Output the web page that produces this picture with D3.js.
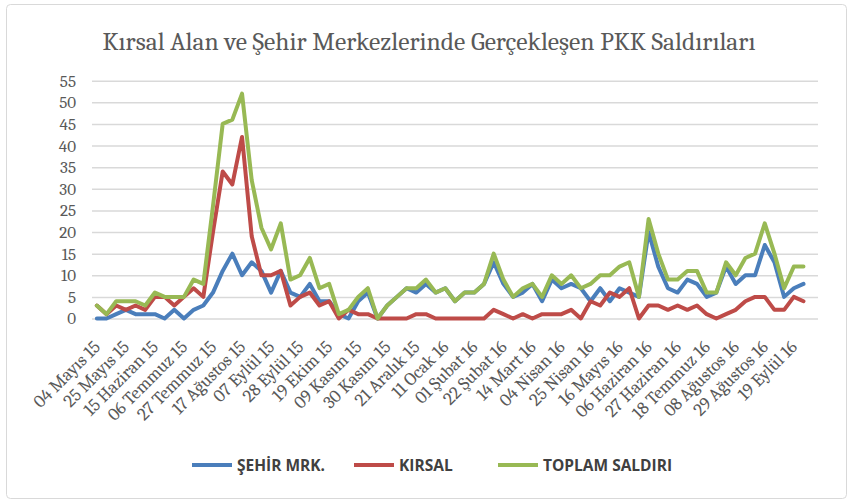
<!DOCTYPE html>
<html>
<head>
<meta charset="utf-8">
<script src="https://cdn.jsdelivr.net/npm/d3@7"></script>
<style>
  body { margin: 0; background: #fff; }
  svg { display: block; }
</style>
</head>
<body>
<div id="chart"></div>
<script>
// weekly categories, 04 Mayıs 15 .. 26 Eylül 16
const categories = [
  "04 Mayıs 15", "11 Mayıs 15", "18 Mayıs 15", "25 Mayıs 15", "01 Haziran 15", "08 Haziran 15",
  "15 Haziran 15", "22 Haziran 15", "29 Haziran 15", "06 Temmuz 15", "13 Temmuz 15", "20 Temmuz 15",
  "27 Temmuz 15", "03 Ağustos 15", "10 Ağustos 15", "17 Ağustos 15", "24 Ağustos 15", "31 Ağustos 15",
  "07 Eylül 15", "14 Eylül 15", "21 Eylül 15", "28 Eylül 15", "05 Ekim 15", "12 Ekim 15",
  "19 Ekim 15", "26 Ekim 15", "02 Kasım 15", "09 Kasım 15", "16 Kasım 15", "23 Kasım 15",
  "30 Kasım 15", "07 Aralık 15", "14 Aralık 15", "21 Aralık 15", "28 Aralık 15", "04 Ocak 16",
  "11 Ocak 16", "18 Ocak 16", "25 Ocak 16", "01 Şubat 16", "08 Şubat 16", "15 Şubat 16",
  "22 Şubat 16", "29 Şubat 16", "07 Mart 16", "14 Mart 16", "21 Mart 16", "28 Mart 16",
  "04 Nisan 16", "11 Nisan 16", "18 Nisan 16", "25 Nisan 16", "02 Mayıs 16", "09 Mayıs 16",
  "16 Mayıs 16", "23 Mayıs 16", "30 Mayıs 16", "06 Haziran 16", "13 Haziran 16", "20 Haziran 16",
  "27 Haziran 16", "04 Temmuz 16", "11 Temmuz 16", "18 Temmuz 16", "25 Temmuz 16", "01 Ağustos 16",
  "08 Ağustos 16", "15 Ağustos 16", "22 Ağustos 16", "29 Ağustos 16", "05 Eylül 16", "12 Eylül 16",
  "19 Eylül 16", "26 Eylül 16"
];

// shown on the axis (every third week)
const tickLabels = [
  "04 Mayıs 15", "25 Mayıs 15", "15 Haziran 15", "06 Temmuz 15", "27 Temmuz 15", "17 Ağustos 15",
  "07 Eylül 15", "28 Eylül 15", "19 Ekim 15", "09 Kasım 15", "30 Kasım 15", "21 Aralık 15",
  "11 Ocak 16", "01 Şubat 16", "22 Şubat 16", "14 Mart 16", "04 Nisan 16", "25 Nisan 16",
  "16 Mayıs 16", "06 Haziran 16", "27 Haziran 16", "18 Temmuz 16", "08 Ağustos 16", "29 Ağustos 16",
  "19 Eylül 16"
];

const sehir = [
  0, 0, 1, 2, 1, 1, 1, 0, 2, 0, 2, 3,
  6, 11, 15, 10, 13, 11, 6, 11, 6, 5, 8, 4,
  4, 1, 0, 4, 6, 0, 3, 5, 7, 6, 8, 6,
  7, 4, 6, 6, 8, 13, 8, 5, 6, 8, 4, 9,
  7, 8, 7, 4, 7, 4, 7, 6, 5, 20, 12, 7,
  6, 9, 8, 5, 6, 12, 8, 10, 10, 17, 13, 5,
  7, 8
];

const kirsal = [
  3, 1, 3, 2, 3, 2, 5, 5, 3, 5, 7, 5,
  20, 34, 31, 42, 19, 10, 10, 11, 3, 5, 6, 3,
  4, 0, 2, 1, 1, 0, 0, 0, 0, 1, 1, 0,
  0, 0, 0, 0, 0, 2, 1, 0, 1, 0, 1, 1,
  1, 2, 0, 4, 3, 6, 5, 7, 0, 3, 3, 2,
  3, 2, 3, 1, 0, 1, 2, 4, 5, 5, 2, 2,
  5, 4
];

const toplam = [
  3, 1, 4, 4, 4, 3, 6, 5, 5, 5, 9, 8,
  26, 45, 46, 52, 32, 21, 16, 22, 9, 10, 14, 7,
  8, 1, 2, 5, 7, 0, 3, 5, 7, 7, 9, 6,
  7, 4, 6, 6, 8, 15, 9, 5, 7, 8, 5, 10,
  8, 10, 7, 8, 10, 10, 12, 13, 5, 23, 15, 9,
  9, 11, 11, 6, 6, 13, 10, 14, 15, 22, 15, 7,
  12, 12
];

const yTicks = [0, 5, 10, 15, 20, 25, 30, 35, 40, 45, 50, 55];

const seriesNames = ["ŞEHİR MRK.", "KIRSAL", "TOPLAM SALDIRI"];
const seriesColors = ["#4A7EBB", "#BE4B48", "#98B954"];

const W = 850, H = 502;
const plot = { left: 92, right: 818, top: 80.7, bottom: 318.5 };
const serif = "Cambria, 'DejaVu Serif', serif";

const svg = d3.select("#chart").append("svg")
  .attr("width", W)
  .attr("height", H);

// outer frame
svg.append("rect")
  .attr("x", 6.5).attr("y", 4.5)
  .attr("width", W - 10).attr("height", H - 8)
  .attr("rx", 4)
  .attr("fill", "#fff")
  .attr("stroke", "#d9d9d9");

// scales
const step = (plot.right - plot.left) / (categories.length + 1);
const x = d3.scalePoint()
  .domain(categories)
  .range([plot.left + step / 2, plot.left + step / 2 + step * (categories.length - 1)]);

const y = d3.scaleLinear()
  .domain([0, 55])
  .range([plot.bottom, plot.top]);

// title
svg.append("text")
  .attr("x", 429)
  .attr("y", 50)
  .attr("text-anchor", "middle")
  .attr("font-family", serif)
  .attr("font-size", 25.5)
  .attr("fill", "#595959")
  .text("Kırsal Alan ve Şehir Merkezlerinde Gerçekleşen PKK Saldırıları");

// y axis + gridlines
const yAxis = svg.append("g")
  .attr("transform", `translate(${plot.left},0)`)
  .call(d3.axisLeft(y)
    .tickValues(yTicks)
    .tickSize(-(plot.right - plot.left))
    .tickPadding(16));
yAxis.select(".domain").remove();
yAxis.selectAll(".tick line")
  .attr("stroke", "#d9d9d9")
  .attr("stroke-width", 1.5);
yAxis.selectAll(".tick text")
  .attr("font-family", serif)
  .attr("font-size", 17)
  .attr("fill", "#595959");

// x axis labels
const xAxis = svg.append("g")
  .attr("transform", `translate(0,${plot.bottom})`)
  .call(d3.axisBottom(x)
    .tickValues(tickLabels)
    .tickSize(0)
    .tickPadding(0));
xAxis.select(".domain").remove();
xAxis.selectAll(".tick text")
  .attr("font-family", serif)
  .attr("font-size", 18)
  .attr("fill", "#595959")
  .attr("text-anchor", "end")
  .attr("dy", 0)
  .attr("transform", "translate(4,29.5) rotate(-45)");

// lines
const allSeries = [sehir, kirsal, toplam];
const line = d3.line()
  .x((d, i) => x(categories[i]))
  .y(d => y(d))
  .curve(d3.curveLinear);

allSeries.forEach((vals, k) => {
  svg.append("path")
    .datum(vals)
    .attr("fill", "none")
    .attr("stroke", seriesColors[k])
    .attr("stroke-width", 4)
    .attr("stroke-linejoin", "round")
    .attr("stroke-linecap", "round")
    .attr("d", line);
});

// legend
const legendX = [192, 354, 498];
const legend = svg.append("g").attr("transform", "translate(0,465)");
seriesNames.forEach((name, k) => {
  legend.append("line")
    .attr("x1", legendX[k]).attr("x2", legendX[k] + 40)
    .attr("y1", 0).attr("y2", 0)
    .attr("stroke", seriesColors[k])
    .attr("stroke-width", 4);
  legend.append("text")
    .attr("x", legendX[k] + 45)
    .attr("y", 5.5)
    .attr("font-family", "'Open Sans', 'Liberation Sans', sans-serif")
    .attr("font-weight", "bold")
    .attr("font-size", 15.5)
    .attr("fill", "#404040")
    .text(name);
});
</script>
</body>
</html>
